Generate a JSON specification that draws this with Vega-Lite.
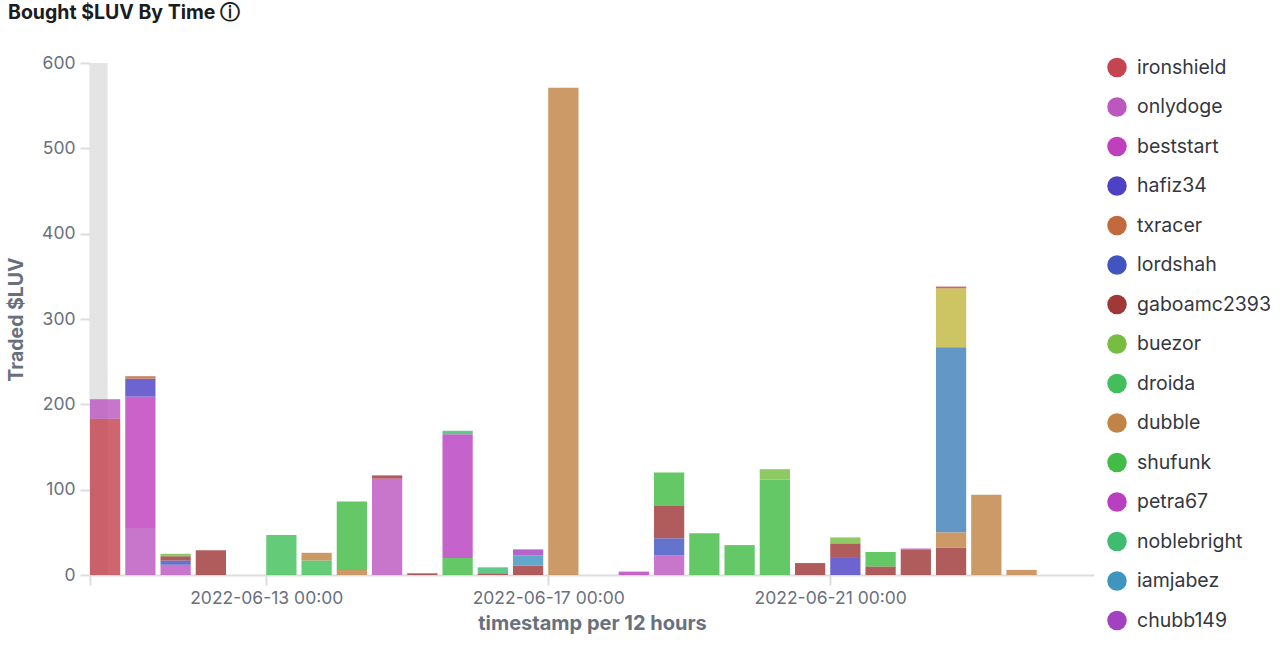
{"$schema":"https://vega.github.io/schema/vega-lite/v6.json","width":1004,"height":512,"autosize":"none","padding":{"left":90,"top":63,"right":186,"bottom":71},"background":"white","title":{"text":"Bought $LUV By Time ⓘ","anchor":"start","frame":"group","dx":-82,"offset":31,"font":"Inter","fontSize":19.5,"fontWeight":700,"color":"#1a1c21"},"config":{"view":{"stroke":null},"font":"Inter"},"layer":[{"data":{"values":[{"start":1654862400000,"end":1654884000000,"low":0,"high":600}]},"mark":{"type":"rect","color":"#e4e4e4"},"encoding":{"x":{"field":"start","type":"temporal"},"x2":{"field":"end"},"y":{"field":"low","type":"quantitative"},"y2":{"field":"high"}}},{"data":{"values":[
{"t":"2022-06-10T12:00:00Z","user":"ironshield","v":183,"s":0},{"t":"2022-06-10T12:00:00Z","user":"onlydoge","v":23,"s":1},
{"t":"2022-06-11T00:00:00Z","user":"onlydoge","v":55,"s":0},{"t":"2022-06-11T00:00:00Z","user":"beststart","v":154,"s":1},{"t":"2022-06-11T00:00:00Z","user":"hafiz34","v":21,"s":2},{"t":"2022-06-11T00:00:00Z","user":"txracer","v":3,"s":3},
{"t":"2022-06-11T12:00:00Z","user":"onlydoge","v":12,"s":0},{"t":"2022-06-11T12:00:00Z","user":"lordshah","v":5,"s":1},{"t":"2022-06-11T12:00:00Z","user":"gaboamc2393","v":5,"s":2},{"t":"2022-06-11T12:00:00Z","user":"buezor","v":3,"s":3},
{"t":"2022-06-12T00:00:00Z","user":"gaboamc2393","v":29,"s":0},
{"t":"2022-06-13T00:00:00Z","user":"droida","v":47,"s":0},
{"t":"2022-06-13T12:00:00Z","user":"droida","v":17,"s":0},{"t":"2022-06-13T12:00:00Z","user":"dubble","v":9,"s":1},
{"t":"2022-06-14T00:00:00Z","user":"dubble","v":6,"s":0},{"t":"2022-06-14T00:00:00Z","user":"shufunk","v":80,"s":1},
{"t":"2022-06-14T12:00:00Z","user":"onlydoge","v":113,"s":0},{"t":"2022-06-14T12:00:00Z","user":"gaboamc2393","v":3,"s":1},{"t":"2022-06-14T12:00:00Z","user":"txracer","v":1,"s":2},
{"t":"2022-06-15T00:00:00Z","user":"gaboamc2393","v":2,"s":0},
{"t":"2022-06-15T12:00:00Z","user":"shufunk","v":20,"s":0},{"t":"2022-06-15T12:00:00Z","user":"petra67","v":145,"s":1},{"t":"2022-06-15T12:00:00Z","user":"noblebright","v":4,"s":2},
{"t":"2022-06-16T00:00:00Z","user":"gaboamc2393","v":2,"s":0},{"t":"2022-06-16T00:00:00Z","user":"noblebright","v":7,"s":1},
{"t":"2022-06-16T12:00:00Z","user":"gaboamc2393","v":11,"s":0},{"t":"2022-06-16T12:00:00Z","user":"iamjabez","v":12,"s":1},{"t":"2022-06-16T12:00:00Z","user":"chubb149","v":7,"s":2},
{"t":"2022-06-17T00:00:00Z","user":"dubble","v":571,"s":0},
{"t":"2022-06-18T00:00:00Z","user":"petra67","v":4,"s":0},
{"t":"2022-06-18T12:00:00Z","user":"onlydoge","v":23,"s":0},{"t":"2022-06-18T12:00:00Z","user":"lordshah","v":20,"s":1},{"t":"2022-06-18T12:00:00Z","user":"gaboamc2393","v":38,"s":2},{"t":"2022-06-18T12:00:00Z","user":"shufunk","v":39,"s":3},
{"t":"2022-06-19T00:00:00Z","user":"shufunk","v":49,"s":0},
{"t":"2022-06-19T12:00:00Z","user":"shufunk","v":35,"s":0},
{"t":"2022-06-20T00:00:00Z","user":"shufunk","v":112,"s":0},{"t":"2022-06-20T00:00:00Z","user":"buezor","v":12,"s":1},
{"t":"2022-06-20T12:00:00Z","user":"gaboamc2393","v":14,"s":0},
{"t":"2022-06-21T00:00:00Z","user":"hafiz34","v":20,"s":0},{"t":"2022-06-21T00:00:00Z","user":"gaboamc2393","v":17,"s":1},{"t":"2022-06-21T00:00:00Z","user":"buezor","v":7,"s":2},
{"t":"2022-06-21T12:00:00Z","user":"gaboamc2393","v":10,"s":0},{"t":"2022-06-21T12:00:00Z","user":"shufunk","v":17,"s":1},
{"t":"2022-06-22T00:00:00Z","user":"gaboamc2393","v":30,"s":0},{"t":"2022-06-22T00:00:00Z","user":"petra67","v":1,"s":1},
{"t":"2022-06-22T12:00:00Z","user":"gaboamc2393","v":32,"s":0},{"t":"2022-06-22T12:00:00Z","user":"dubble","v":18,"s":1},{"t":"2022-06-22T12:00:00Z","user":"other1","v":217,"s":2},{"t":"2022-06-22T12:00:00Z","user":"other2","v":69,"s":3},{"t":"2022-06-22T12:00:00Z","user":"ironshield","v":2,"s":4},
{"t":"2022-06-23T00:00:00Z","user":"dubble","v":94,"s":0},
{"t":"2022-06-23T12:00:00Z","user":"dubble","v":6,"s":0}
]},"mark":{"type":"bar","opacity":0.82,"binSpacing":5,"xOffset":-3},"encoding":{"x":{"timeUnit":{"unit":"utcyearmonthdatehours","step":12},"field":"t","type":"temporal","scale":{"type":"utc","domain":[1654862400000,1656092880000]},"axis":{"title":"timestamp per 12 hours","values":[1654862400000,1655078400000,1655424000000,1655769600000],"labelExpr":"time(datum.value) == 1654862400000 ? '' : utcFormat(datum.value, '%Y-%m-%d %H:%M')","grid":false,"domainColor":"#dcdde0","domainWidth":2,"tickColor":"#dcdde0","tickWidth":2,"tickSize":10,"labelColor":"#69707d","labelFont":"Inter","labelFontSize":17.5,"labelPadding":4,"titleColor":"#69707d","titleFont":"Inter","titleFontSize":20,"titleFontWeight":700,"titlePadding":7,"labelOverlap":false,"labelFlush":false}},"y":{"field":"v","type":"quantitative","aggregate":"sum","stack":"zero","scale":{"domain":[0,600],"nice":false},"axis":{"title":"Traded $LUV","values":[0,100,200,300,400,500,600],"grid":false,"domain":true,"domainColor":"#dcdde0","domainWidth":2,"tickColor":"#dcdde0","tickWidth":2,"tickSize":10,"labelColor":"#69707d","labelFont":"Inter","labelFontSize":17.5,"labelPadding":5,"titleColor":"#69707d","titleFont":"Inter","titleFontSize":19.5,"titleFontWeight":700,"titlePadding":15}},"color":{"field":"user","type":"nominal","sort":null,"scale":{"domain":["ironshield","onlydoge","beststart","hafiz34","txracer","lordshah","gaboamc2393","buezor","droida","dubble","shufunk","petra67","noblebright","iamjabez","chubb149","other1","other2"],"range":["#c4444f","#bb58bf","#bf3fbd","#4d42c4","#c2693e","#4254c0","#a03838","#76bd42","#42bf5c","#c08446","#42bc46","#b93fc0","#3fbc70","#4095c0","#a342c0","#3f80ba","#c2b742"]},"legend":{"title":null,"orient":"none","legendX":1017,"legendY":-8,"values":["ironshield","onlydoge","beststart","hafiz34","txracer","lordshah","gaboamc2393","buezor","droida","dubble","shufunk","petra67","noblebright","iamjabez","chubb149"],"symbolType":"circle","symbolSize":380,"symbolOpacity":1,"symbolStrokeWidth":0,"labelFont":"Inter","labelFontSize":19.5,"labelColor":"#343741","labelLimit":160,"labelOffset":10,"rowPadding":14.5,"clipHeight":25,"padding":0}},"order":{"field":"s","type":"quantitative"}}}]}
